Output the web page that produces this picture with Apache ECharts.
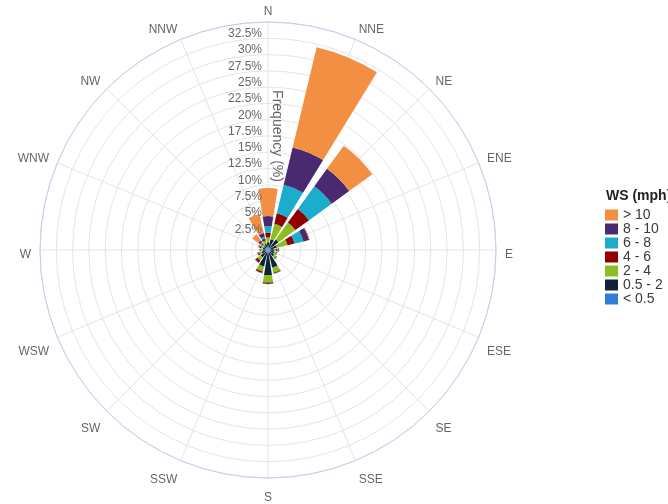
<!DOCTYPE html>
<html>
<head>
<meta charset="utf-8">
<script src="https://cdn.jsdelivr.net/npm/echarts@6/dist/echarts.min.js"></script>
<style>
html,body{margin:0;padding:0;background:#fff;}
#chart{width:668px;height:504px;}
</style>
</head>
<body>
<div id="chart"></div>
<script>
const directions = ['N','NNE','NE','ENE','E','ESE','SE','SSE','S','SSW','SW','WSW','W','WNW','NW','NNW'];
const speedClasses = ['< 0.5','0.5 - 2','2 - 4','4 - 6','6 - 8','8 - 10','> 10'];
const legendOrder = ['> 10','8 - 10','6 - 8','4 - 6','2 - 4','0.5 - 2','< 0.5'];
const colors = ['#2f7ed8','#0d233a','#8bbc21','#910000','#1aadce','#492970','#f28f43'];
const radiusTicks = [0,2.5,5,7.5,10,12.5,15,17.5,20,22.5,25,27.5,30,32.5,35];

// frequency (%) per direction, one array per speed class
const ws_lt05  = [0.4, 0.4, 0.4, 0.4, 0.4, 0.4, 0.4, 0.4, 0.4, 0.4, 0.4, 0.4, 0.4, 0.4, 0.4, 0.4];
const ws_05_2  = [0.8, 1.3, 1.6, 1.0, 0.5, 0.6, 0.8, 2.4, 3.5, 2.2, 1.0, 0.6, 0.4, 0.4, 0.4, 0.6];
const ws_2_4   = [0.75,2.45,3.2, 1.7, 0.35,0.3, 0.4, 0.8, 1.1, 0.8, 0.6, 0.4, 0.3, 0.3, 0.3, 0.5];
const ws_4_6   = [0.75,1.65,2.6, 1.1, 0.2, 0.1, 0.1, 0.15,0.2, 0.25,0.4, 0.2, 0.1, 0.2, 0.2, 0.3];
const ws_6_8   = [1.0, 4.5, 4.3, 1.4, 0.15,0.05,0.05,0.05,0.05,0.05,0.05,0.05,0.05,0.1, 0.2, 0.3];
const ws_8_10  = [1.5, 5.9, 3.3, 0.9, 0.1, 0.03,0.02,0,   0,   0,   0.03,0.05,0.05,0.1, 0.35,0.6];
const ws_gt10  = [4.3, 15.8,4.4, 0.1, 0.05,0.02,0,   0,   0,   0,   0,   0.02,0.05,0.1, 1.15,3.0];
const seriesData = [ws_lt05, ws_05_2, ws_2_4, ws_4_6, ws_6_8, ws_8_10, ws_gt10];

const step = 360 / directions.length;
const rMin = radiusTicks[0];
const rMax = radiusTicks[radiusTicks.length - 1];
const font = 'Liberation Sans';
const hiddenAxis = {
  axisLine: { show: false }, axisTick: { show: false },
  axisLabel: { show: false }, splitLine: { show: false }
};

const chart = echarts.init(document.getElementById('chart'));
const series = speedClasses.map((name, i) => ({
  type: 'bar',
  name: name,
  coordinateSystem: 'polar',
  polarIndex: 2,
  stack: 'ws',
  barCategoryGap: '20%',
  data: seriesData[i],
  itemStyle: { color: colors[i] },
  silent: true
}));

chart.setOption({
  animation: false,
  backgroundColor: '#fff',
  title: {
    text: 'WS (mph)',
    left: 606,
    top: 189,
    padding: 0,
    textStyle: { fontFamily: font, fontSize: 14, fontWeight: 'bold', color: '#222' }
  },
  legend: {
    orient: 'vertical',
    left: 605,
    top: 208,
    padding: 0,
    itemWidth: 13,
    itemHeight: 11,
    itemGap: 0,
    icon: 'rect',
    data: legendOrder,
    selectedMode: false,
    textStyle: { fontFamily: font, fontSize: 14, color: '#3a3a3a', lineHeight: 13.6 }
  },
  polar: [
    { center: [268, 250], radius: 228 },   // grid
    { center: [268, 255], radius: 230 },   // direction labels
    { center: [268, 250], radius: 228 },   // bars
    { center: [268, 250], radius: 228 }    // radial labels (on top)
  ],
  angleAxis: [
    {
      polarIndex: 0,
      type: 'value', min: 0, max: 360, interval: step,
      startAngle: 90, clockwise: true,
      axisLine: { show: true, lineStyle: { color: '#c9c9ea', width: 1 } },
      axisTick: { show: false },
      axisLabel: { show: false },
      splitLine: { show: true, lineStyle: { color: '#e4e4ec', width: 1 } }
    },
    {
      polarIndex: 1,
      type: 'value', min: 0, max: 360, interval: step,
      startAngle: 90, clockwise: true,
      axisLine: { show: false },
      axisTick: { show: false },
      splitLine: { show: false },
      axisLabel: {
        margin: 7, color: '#666', fontFamily: font, fontSize: 12,
        formatter: v => (v >= 360 ? '' : directions[Math.round(v / step)])
      }
    },
    Object.assign({
      polarIndex: 2,
      type: 'category', data: directions, boundaryGap: true,
      startAngle: 90 + step / 2, clockwise: true
    }, hiddenAxis),
    Object.assign({
      polarIndex: 3,
      type: 'value', min: 0, max: 360, startAngle: 90, clockwise: true
    }, hiddenAxis)
  ],
  radiusAxis: [
    Object.assign({
      polarIndex: 0,
      type: 'value', min: rMin, max: rMax, interval: 2.5
    }, hiddenAxis, {
      splitLine: { show: true, lineStyle: { color: '#e4e4ec', width: 1 } }
    }),
    Object.assign({ polarIndex: 1, type: 'value', min: rMin, max: rMax }, hiddenAxis),
    Object.assign({ polarIndex: 2, type: 'value', min: rMin, max: rMax }, hiddenAxis),
    {
      polarIndex: 3,
      type: 'value', min: rMin, max: rMax, interval: 2.5,
      z: 10,
      name: 'Frequency (%)',
      nameLocation: 'middle',
      nameGap: 2,
      nameRotate: -90,
      nameTextStyle: { color: '#666', fontFamily: font, fontSize: 14 },
      axisLine: { show: false },
      axisTick: { show: false },
      splitLine: { show: false },
      axisLabel: {
        margin: 6,
        color: '#666',
        fontFamily: font,
        fontSize: 12,
        verticalAlign: 'bottom',
        lineHeight: 9,
        formatter: v => (v === rMin || v === rMax) ? '' : v + '%'
      }
    }
  ],
  series: series
});
</script>
</body>
</html>
